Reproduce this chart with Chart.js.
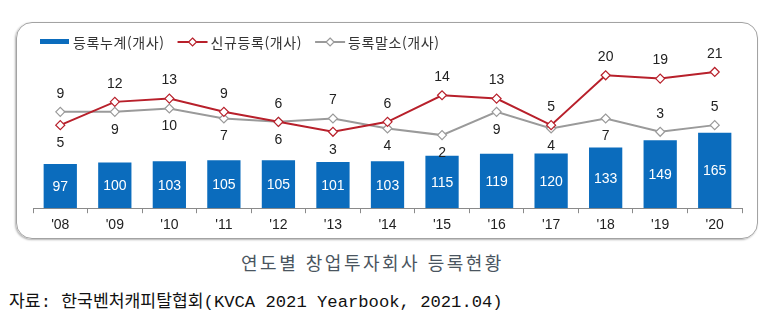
<!DOCTYPE html>
<html lang="ko">
<head>
<meta charset="UTF-8" />
<title>연도별 창업투자회사 등록현황</title>
<script src="https://cdn.jsdelivr.net/npm/chart.js"></script>
<style>
    html, body {
        margin: 0;
        padding: 0;
        background: #fff;
    }

    #wrap {
        position: relative;
        width: 767px;
        height: 326px;
        overflow: hidden;
    }

    #frame {
        position: absolute;
        left: 16px;
        top: 22px;
        width: 740px;
        height: 215px;
        border: 1.5px solid #a3a3a3;
        border-radius: 16px;
        box-shadow: -1px 1px 2px rgba(0, 0, 0, 0.3);
    }

    #chartBox {
        position: absolute;
        left: 0;
        top: 0;
        width: 767px;
        height: 245px;
    }

    #caption {
        position: absolute;
        left: 0;
        width: 767px;
        top: 249px;
        text-align: center;
        font-family: "Noto Sans CJK KR", sans-serif;
        font-size: 18px;
        letter-spacing: 2.5px;
        color: #4a5560;
        padding-right: 22px;
        box-sizing: border-box;
    }

    #source {
        position: absolute;
        left: 9px;
        top: 287px;
        font-family: "Liberation Mono", "Noto Sans CJK KR", monospace;
        font-size: 17.2px;
        color: #111;
        white-space: nowrap;
    }
</style>
</head>
<body>
<div id="wrap">
    <div id="frame"></div>
    <canvas id="chartBox" width="767" height="245"></canvas>
    <div id="caption">연도별 창업투자회사 등록현황</div>
    <div id="source">자료: 한국벤처캐피탈협회(KVCA 2021 Yearbook, 2021.04)</div>
</div>

<script>
    // data
    const years = ["'08", "'09", "'10", "'11", "'12", "'13", "'14", "'15", "'16", "'17", "'18", "'19", "'20"];
    const totalReg = [97, 100, 103, 105, 105, 101, 103, 115, 119, 120, 133, 149, 165];
    const newReg = [5, 12, 13, 9, 6, 3, 6, 14, 13, 5, 20, 19, 21];
    const cancelReg = [9, 9, 10, 7, 6, 7, 4, 2, 9, 4, 7, 3, 5];

    // where the value label sits for each line point (a = above, b = below)
    const newSide = ['b', 'a', 'a', 'a', 'a', 'b', 'a', 'a', 'a', 'a', 'a', 'a', 'a'];
    const cancelSide = ['a', 'b', 'b', 'b', 'b', 'a', 'b', 'b', 'b', 'b', 'b', 'a', 'a'];

    const BLUE = '#0b6cbd';
    const RED = '#b8202b';
    const GREY = '#9a9a9a';
    const numFont = '14px "Liberation Sans", Arial, sans-serif';

    // draws the value labels
    const valueLabels = {
        id: 'valueLabels',
        afterDatasetsDraw(chart) {
            const ctx = chart.ctx;
            ctx.save();
            ctx.font = numFont;
            ctx.textAlign = 'center';
            ctx.textBaseline = 'middle';

            const bars = chart.getDatasetMeta(0).data;
            bars.forEach((bar, i) => {
                ctx.fillStyle = '#fff';
                ctx.fillText(totalReg[i], bar.x, (bar.y + bar.base) / 2 + 1);
            });

            const sides = [null, newSide, cancelSide];
            [1, 2].forEach(di => {
                const meta = chart.getDatasetMeta(di);
                const vals = chart.data.datasets[di].data;
                meta.data.forEach((pt, i) => {
                    const off = sides[di][i] === 'a' ? -18 : 18;
                    ctx.fillStyle = '#222';
                    ctx.fillText(vals[i], pt.x, pt.y + off);
                });
            });
            ctx.restore();
        }
    };

    // legend drawn by hand so the line items get their diamond marker
    const topLegend = {
        id: 'topLegend',
        afterDraw(chart) {
            const ctx = chart.ctx;
            const y = 42;
            let x = 40;
            ctx.save();
            ctx.font = '14px "Noto Sans CJK KR", sans-serif';
            ctx.letterSpacing = '0.6px';
            ctx.textBaseline = 'middle';
            chart.data.datasets.forEach((ds, i) => {
                if (i === 0) {
                    ctx.fillStyle = ds.backgroundColor;
                    ctx.fillRect(x, y - 3, 29, 5);
                } else {
                    ctx.strokeStyle = ds.borderColor;
                    ctx.lineWidth = 2;
                    ctx.beginPath();
                    ctx.moveTo(x, y);
                    ctx.lineTo(x + 30, y);
                    ctx.stroke();
                    ctx.fillStyle = '#fff';
                    ctx.lineWidth = 1.2;
                    ctx.beginPath();
                    ctx.moveTo(x + 15, y - 4);
                    ctx.lineTo(x + 19, y);
                    ctx.lineTo(x + 15, y + 4);
                    ctx.lineTo(x + 11, y);
                    ctx.closePath();
                    ctx.fill();
                    ctx.stroke();
                }
                x += 33;
                ctx.fillStyle = '#333';
                ctx.fillText(ds.label, x, y + 1);
                x += ctx.measureText(ds.label).width + 13;
            });
            ctx.restore();
        }
    };

    const ctx = document.getElementById('chartBox').getContext('2d');
    const chart = new Chart(ctx, {
        data: {
            labels: years,
            datasets: [
                {
                    type: 'bar',
                    label: '등록누계(개사)',
                    data: totalReg,
                    backgroundColor: BLUE,
                    yAxisID: 'y',
                    barPercentage: 0.61,
                    categoryPercentage: 1,
                    order: 2
                },
                {
                    type: 'line',
                    label: '신규등록(개사)',
                    data: newReg,
                    borderColor: RED,
                    borderWidth: 2,
                    pointStyle: 'rectRot',
                    pointRadius: 4.5,
                    pointBorderWidth: 1.2,
                    pointBackgroundColor: '#fff',
                    pointBorderColor: RED,
                    yAxisID: 'y1',
                    order: 0
                },
                {
                    type: 'line',
                    label: '등록말소(개사)',
                    data: cancelReg,
                    borderColor: GREY,
                    borderWidth: 2,
                    pointStyle: 'rectRot',
                    pointRadius: 4.5,
                    pointBorderWidth: 1.2,
                    pointBackgroundColor: '#fff',
                    pointBorderColor: GREY,
                    yAxisID: 'y1',
                    order: 1
                }
            ]
        },
        options: {
            responsive: false,
            animation: false,
            layout: {
                padding: { left: 33, right: 25, top: 62, bottom: 7 }
            },
            plugins: {
                legend: { display: false },
                tooltip: { enabled: false }
            },
            scales: {
                x: {
                    offset: true,
                    grid: {
                        offset: true,
                        drawOnChartArea: false,
                        drawTicks: true,
                        tickLength: 5,
                        color: '#8a8a8a'
                    },
                    border: { display: true, color: '#8a8a8a', width: 1 },
                    ticks: {
                        color: '#222',
                        padding: 4,
                        font: { family: '"Liberation Sans", Arial, sans-serif', size: 14 }
                    }
                },
                y: { display: false, min: 0, max: 320 },
                y1: { display: false, min: -20, max: 24 }
            }
        },
        plugins: [valueLabels, topLegend]
    });
</script>
</body>
</html>
